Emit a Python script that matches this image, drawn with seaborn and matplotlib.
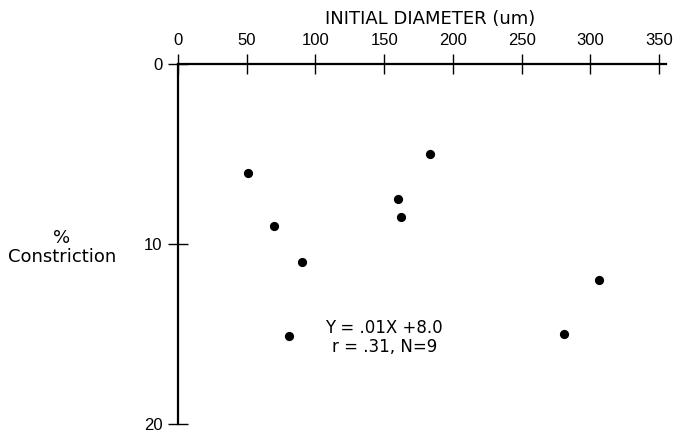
import numpy as np
import matplotlib
matplotlib.use("Agg")
import matplotlib.pyplot as plt
import seaborn as sns

# =======================
# Data
# =======================
diameter = [51, 70, 90, 81, 160, 162, 183, 306, 281]          # initial diameter (um)
constriction = [6.1, 9.0, 11.0, 15.1, 7.5, 8.5, 5.0, 12.0, 15.0]  # % constriction
x_ticks = [0, 50, 100, 150, 200, 250, 300, 350]
y_ticks = [0, 10, 20]
fit_text = "Y = .01X +8.0\nr = .31, N=9"

sns.set_theme(style="white")
plt.rcParams["font.family"] = ["Liberation Sans", "DejaVu Sans"]
label_font = ["DejaVu Sans"]

fig = plt.figure(figsize=(6.75, 4.34), dpi=100)
ax = fig.add_axes([178 / 675, 1 - 424 / 434, 488 / 675, (424 - 63.5) / 434])

sns.scatterplot(x=diameter, y=constriction, ax=ax, color="black", s=44,
                edgecolor="black", linewidth=0, zorder=3)

ax.set_xlim(0, 355)
ax.set_ylim(20, 0)
ax.set_xticks(x_ticks)
ax.set_yticks(y_ticks)

# x axis on top, only left/top spines
ax.xaxis.tick_top()
ax.xaxis.set_label_position("top")
for side in ["right", "bottom"]:
    ax.spines[side].set_visible(False)
for side in ["left", "top"]:
    ax.spines[side].set_visible(True)
    ax.spines[side].set_color("black")
    ax.spines[side].set_linewidth(1.6)

ax.tick_params(axis="both", direction="inout", length=14, width=1.0,
               color="black", labelsize=12, labelcolor="black", pad=4)
ax.tick_params(axis="x", top=True, bottom=False)
ax.tick_params(axis="y", left=True)

ax.set_xlabel("INITIAL DIAMETER (um)", fontsize=13, color="black",
              family=label_font, va="center")
ax.xaxis.set_label_coords(0.516, 1.123)
ax.set_ylabel("%\nConstriction", fontsize=13, color="black", rotation=0,
              ha="center", va="center", linespacing=1.05, family=label_font)
ax.yaxis.set_label_coords(-0.238, 0.49)

ax.text(150, 15.2, fit_text, fontsize=12, ha="center", va="center",
        color="black", linespacing=1.1, family=label_font)

ax.grid(False)
fig.savefig("out.png", dpi=100)
